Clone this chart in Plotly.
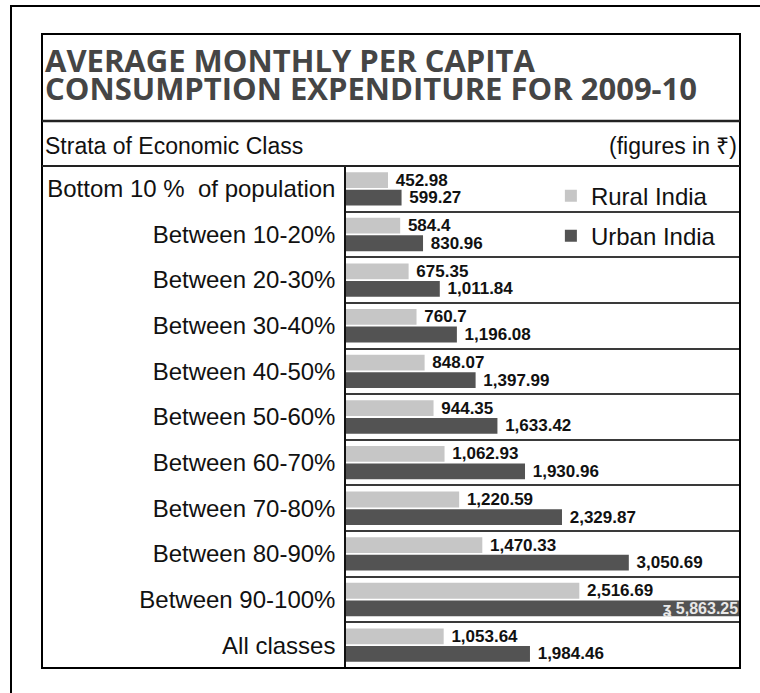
import plotly.graph_objects as go

# ---------------------------------------------
# Data: MPCE 2009-10 (figures in Rs)
# ---------------------------------------------
categories = [
    "Bottom 10 %  of population",
    "Between 10-20%",
    "Between 20-30%",
    "Between 30-40%",
    "Between 40-50%",
    "Between 50-60%",
    "Between 60-70%",
    "Between 70-80%",
    "Between 80-90%",
    "Between 90-100%",
    "All classes",
]
rural = [452.98, 584.40, 675.35, 760.70, 848.07, 944.35, 1062.93, 1220.59, 1470.33, 2516.69, 1053.64]
urban = [599.27, 830.96, 1011.84, 1196.08, 1397.99, 1633.42, 1930.96, 2329.87, 3050.69, 5863.25, 1984.46]
title_lines = ["AVERAGE MONTHLY PER CAPITA", "CONSUMPTION EXPENDITURE FOR 2009-10"]

# axis is cut short, the top urban bar runs off the edge
x_max = 4250


def fmt(v):
    s = f"{v:,.2f}"
    return s.rstrip("0") if s.endswith("0") else s


rural_txt = [" " + fmt(v) for v in rural]
urban_txt = [" " + fmt(v) for v in urban]
urban_pos = ["none" if v > x_max else "outside" for v in urban]

FONT = "Liberation Sans, Arial, sans-serif"
TITLE_FONT = "Open Sans, Liberation Sans, sans-serif"

# ---------------------------------------------
# Figure
# ---------------------------------------------
fig = go.Figure()
fig.add_trace(go.Bar(
    y=categories, x=rural, name="Rural India", orientation="h",
    legendgroup="r",
    marker=dict(color="#c6c6c6", line=dict(width=0)),
    text=rural_txt, textposition="outside", constraintext="none",
    textfont=dict(family=FONT, size=17, color="#111111", weight=700),
    cliponaxis=False,
))
fig.add_trace(go.Bar(
    y=categories, x=urban, name="Urban India", orientation="h",
    legendgroup="u",
    marker=dict(color="#535353", line=dict(width=0)),
    text=urban_txt, textposition=urban_pos, constraintext="none",
    textfont=dict(family=FONT, size=17, color="#111111", weight=700),
    cliponaxis=True,
))

# table frame, in paper units of the plot area (346..740 x 166..668 px)
def px_x(p):
    return (p - 346) / 394


def px_y(p):
    return (668 - p) / 502


shapes = [
    # outer frame (runs off the page right and bottom)
    dict(type="rect", x0=px_x(11), x1=px_x(800), y0=px_y(740), y1=px_y(6),
         line=dict(color="black", width=2)),
    # table box
    dict(type="rect", x0=px_x(42), x1=1, y0=0, y1=px_y(34),
         line=dict(color="black", width=2)),
    # rule under the title
    dict(type="line", x0=px_x(42), x1=1, y0=px_y(121), y1=px_y(121),
         line=dict(color="#222222", width=2.5)),
    # rule under the header row
    dict(type="line", x0=px_x(42), x1=1, y0=1, y1=1,
         line=dict(color="#222222", width=2)),
]
for s in shapes:
    s.update(xref="paper", yref="paper", layer="above")

# title: small base size keeps the two lines tight, spans make the letters big
title_html = "<br>".join(
    "<b><span style='font-size:31px'>" + t + "</span></b>" for t in title_lines
)

annotations = [
    dict(text=title_html, x=px_x(43), y=px_y(74), align="left",
         xanchor="left", yanchor="middle",
         font=dict(family=TITLE_FONT, size=21.5, color="#454545")),
    dict(text="Strata of Economic Class", x=px_x(43), y=px_y(146),
         xanchor="left", yanchor="middle",
         font=dict(family=FONT, size=23, color="#111111")),
    dict(text="(figures in ₹)", x=0.997, y=px_y(146),
         xanchor="right", yanchor="middle",
         font=dict(family=FONT, size=23, color="#111111")),
]
for a in annotations:
    a.update(xref="paper", yref="paper", showarrow=False)

# label for the bar that runs past the edge, drawn inside the bar end
for cat, v in zip(categories, urban):
    if v > x_max:
        annotations.append(dict(
            text="<b>ʓ " + fmt(v) + "</b>", x=x_max, y=cat, xref="x", yref="y",
            xanchor="right", yanchor="middle", yshift=-9, showarrow=False,
            font=dict(family=FONT, size=16, color="#e8e8e8"),
        ))

fig.update_layout(
    width=760, height=693,
    margin=dict(l=346, r=20, t=166, b=25),
    paper_bgcolor="white", plot_bgcolor="white",
    barmode="group", bargap=0.23, bargroupgap=0.1,
    font=dict(family=FONT, color="#111111"),
    shapes=shapes, annotations=annotations,
    legend=dict(
        x=0.52, y=0.985, xanchor="left", yanchor="top",
        bgcolor="rgba(0,0,0,0)", tracegroupgap=6, itemwidth=30,
        font=dict(family=FONT, size=24, color="#111111"),
    ),
)
fig.update_xaxes(range=[0, x_max], visible=False, fixedrange=True)
fig.update_yaxes(
    type="category", autorange="reversed", tickson="boundaries",
    showgrid=True, gridcolor="#3a3a3a", gridwidth=1.5,
    showline=True, linecolor="#111111", linewidth=1.5,
    ticks="", ticklabelstandoff=4,
    tickfont=dict(family=FONT, size=24, color="#111111"),
)

# page body has a default margin, drop it so the figure sits at the corner
fig.write_html(
    "out.html",
    config={"displayModeBar": False},
    post_script="document.body.style.margin='0px';",
)
